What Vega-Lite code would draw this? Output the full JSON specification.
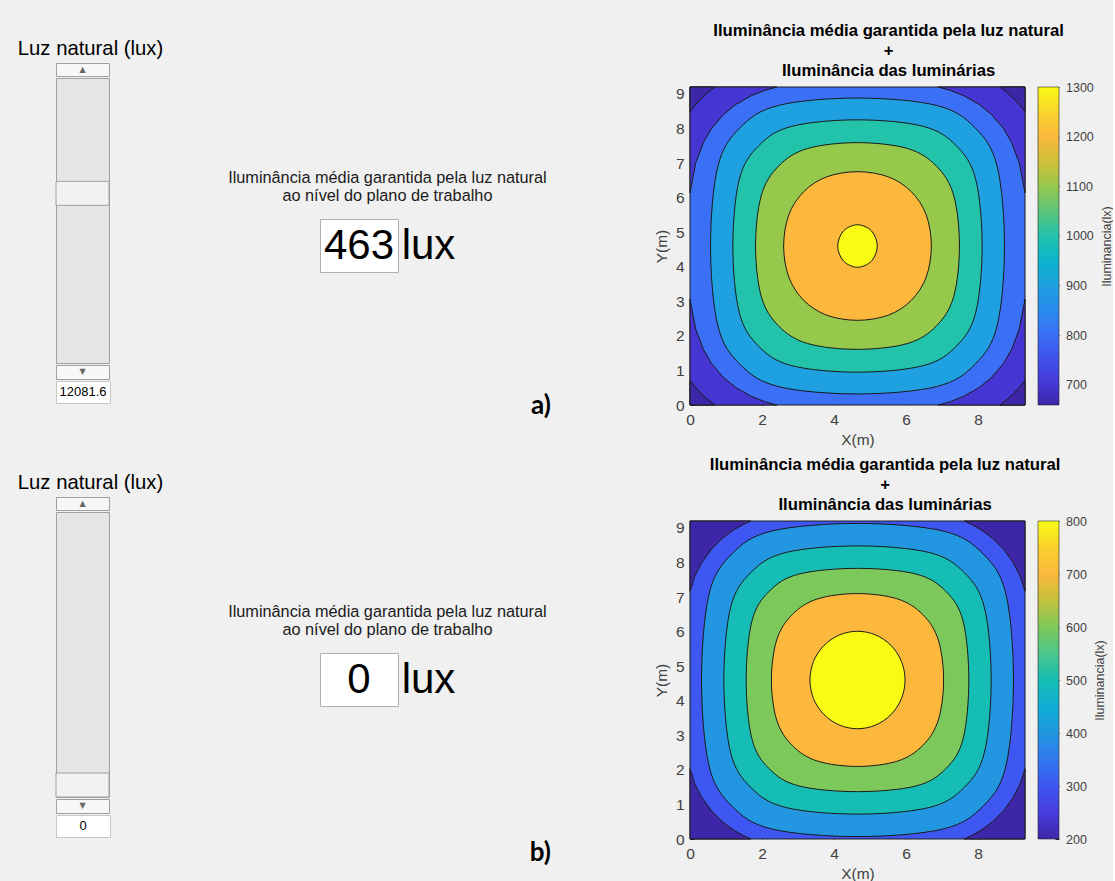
{
"$schema": "https://vega.github.io/schema/vega-lite/v6.json",
"background": "#f0f0f0",
"padding": {"left": 17, "top": 11, "right": 0, "bottom": 0},
"config": {"font": "Liberation Sans", "view": {"stroke": null}, "axis": {"grid": false}},
"datasets": {
"painel_a": [{"painel": "a", "luz_natural": 12081.6, "iluminancia_media": 463, "rotulo": "a)"}],
"painel_b": [{"painel": "b", "luz_natural": 0, "iluminancia_media": 0, "rotulo": "b)"}],
"escala_a": [{"min": 659, "max": 1300}],
"escala_b": [{"min": 200, "max": 800}],
"contornos_a": [
{"nivel":800,"reg":"fundo","ord":0,"x":0,"y":0},{"nivel":800,"reg":"fundo","ord":1,"x":9.3,"y":0},{"nivel":800,"reg":"fundo","ord":2,"x":9.3,"y":9.2},{"nivel":800,"reg":"fundo","ord":3,"x":0,"y":9.2},{"nivel":800,"reg":"fundo","ord":4,"x":0,"y":0},
{"nivel":700,"reg":"NO","ord":0,"x":0,"y":9.2},{"nivel":700,"reg":"NO","ord":1,"x":0,"y":6.14},{"nivel":700,"reg":"NO","ord":2,"x":0.157,"y":7.0},{"nivel":700,"reg":"NO","ord":3,"x":0.375,"y":7.6},{"nivel":700,"reg":"NO","ord":4,"x":0.599,"y":8.0},{"nivel":700,"reg":"NO","ord":5,"x":0.926,"y":8.4},{"nivel":700,"reg":"NO","ord":6,"x":1.279,"y":8.7},{"nivel":700,"reg":"NO","ord":7,"x":1.704,"y":8.95},{"nivel":700,"reg":"NO","ord":8,"x":2.068,"y":9.1},{"nivel":700,"reg":"NO","ord":9,"x":2.407,"y":9.2},{"nivel":700,"reg":"NO","ord":10,"x":0,"y":9.2},
{"nivel":700,"reg":"NE","ord":0,"x":9.3,"y":9.2},{"nivel":700,"reg":"NE","ord":1,"x":9.3,"y":6.14},{"nivel":700,"reg":"NE","ord":2,"x":9.143,"y":7.0},{"nivel":700,"reg":"NE","ord":3,"x":8.925,"y":7.6},{"nivel":700,"reg":"NE","ord":4,"x":8.701,"y":8.0},{"nivel":700,"reg":"NE","ord":5,"x":8.374,"y":8.4},{"nivel":700,"reg":"NE","ord":6,"x":8.021,"y":8.7},{"nivel":700,"reg":"NE","ord":7,"x":7.596,"y":8.95},{"nivel":700,"reg":"NE","ord":8,"x":7.232,"y":9.1},{"nivel":700,"reg":"NE","ord":9,"x":6.893,"y":9.2},{"nivel":700,"reg":"NE","ord":10,"x":9.3,"y":9.2},
{"nivel":700,"reg":"SO","ord":0,"x":0,"y":0},{"nivel":700,"reg":"SO","ord":1,"x":0,"y":3.06},{"nivel":700,"reg":"SO","ord":2,"x":0.157,"y":2.2},{"nivel":700,"reg":"SO","ord":3,"x":0.375,"y":1.6},{"nivel":700,"reg":"SO","ord":4,"x":0.599,"y":1.2},{"nivel":700,"reg":"SO","ord":5,"x":0.926,"y":0.8},{"nivel":700,"reg":"SO","ord":6,"x":1.279,"y":0.5},{"nivel":700,"reg":"SO","ord":7,"x":1.704,"y":0.25},{"nivel":700,"reg":"SO","ord":8,"x":2.068,"y":0.1},{"nivel":700,"reg":"SO","ord":9,"x":2.407,"y":0},{"nivel":700,"reg":"SO","ord":10,"x":0,"y":0},
{"nivel":700,"reg":"SE","ord":0,"x":9.3,"y":0},{"nivel":700,"reg":"SE","ord":1,"x":9.3,"y":3.06},{"nivel":700,"reg":"SE","ord":2,"x":9.143,"y":2.2},{"nivel":700,"reg":"SE","ord":3,"x":8.925,"y":1.6},{"nivel":700,"reg":"SE","ord":4,"x":8.701,"y":1.2},{"nivel":700,"reg":"SE","ord":5,"x":8.374,"y":0.8},{"nivel":700,"reg":"SE","ord":6,"x":8.021,"y":0.5},{"nivel":700,"reg":"SE","ord":7,"x":7.596,"y":0.25},{"nivel":700,"reg":"SE","ord":8,"x":7.232,"y":0.1},{"nivel":700,"reg":"SE","ord":9,"x":6.893,"y":0},{"nivel":700,"reg":"SE","ord":10,"x":9.3,"y":0},
{"nivel":659,"reg":"NO","ord":0,"x":0,"y":9.2},{"nivel":659,"reg":"NO","ord":1,"x":0,"y":8.49},{"nivel":659,"reg":"NO","ord":2,"x":0.164,"y":8.7},{"nivel":659,"reg":"NO","ord":3,"x":0.347,"y":8.9},{"nivel":659,"reg":"NO","ord":4,"x":0.506,"y":9.05},{"nivel":659,"reg":"NO","ord":5,"x":0.694,"y":9.2},{"nivel":659,"reg":"NO","ord":6,"x":0,"y":9.2},
{"nivel":659,"reg":"NE","ord":0,"x":9.3,"y":9.2},{"nivel":659,"reg":"NE","ord":1,"x":9.3,"y":8.49},{"nivel":659,"reg":"NE","ord":2,"x":9.136,"y":8.7},{"nivel":659,"reg":"NE","ord":3,"x":8.953,"y":8.9},{"nivel":659,"reg":"NE","ord":4,"x":8.794,"y":9.05},{"nivel":659,"reg":"NE","ord":5,"x":8.606,"y":9.2},{"nivel":659,"reg":"NE","ord":6,"x":9.3,"y":9.2},
{"nivel":659,"reg":"SO","ord":0,"x":0,"y":0},{"nivel":659,"reg":"SO","ord":1,"x":0,"y":0.71},{"nivel":659,"reg":"SO","ord":2,"x":0.164,"y":0.5},{"nivel":659,"reg":"SO","ord":3,"x":0.347,"y":0.3},{"nivel":659,"reg":"SO","ord":4,"x":0.506,"y":0.15},{"nivel":659,"reg":"SO","ord":5,"x":0.694,"y":0},{"nivel":659,"reg":"SO","ord":6,"x":0,"y":0},
{"nivel":659,"reg":"SE","ord":0,"x":9.3,"y":0},{"nivel":659,"reg":"SE","ord":1,"x":9.3,"y":0.71},{"nivel":659,"reg":"SE","ord":2,"x":9.136,"y":0.5},{"nivel":659,"reg":"SE","ord":3,"x":8.953,"y":0.3},{"nivel":659,"reg":"SE","ord":4,"x":8.794,"y":0.15},{"nivel":659,"reg":"SE","ord":5,"x":8.606,"y":0},{"nivel":659,"reg":"SE","ord":6,"x":9.3,"y":0},
{"nivel":900,"reg":"c","ord":0,"x":8.73,"y":4.6},{"nivel":900,"reg":"c","ord":1,"x":8.527,"y":6.903},{"nivel":900,"reg":"c","ord":2,"x":7.912,"y":8.022},{"nivel":900,"reg":"c","ord":3,"x":6.845,"y":8.667},{"nivel":900,"reg":"c","ord":4,"x":4.65,"y":8.88},{"nivel":900,"reg":"c","ord":5,"x":2.455,"y":8.667},{"nivel":900,"reg":"c","ord":6,"x":1.388,"y":8.022},{"nivel":900,"reg":"c","ord":7,"x":0.773,"y":6.903},{"nivel":900,"reg":"c","ord":8,"x":0.57,"y":4.6},{"nivel":900,"reg":"c","ord":9,"x":0.773,"y":2.297},{"nivel":900,"reg":"c","ord":10,"x":1.388,"y":1.178},{"nivel":900,"reg":"c","ord":11,"x":2.455,"y":0.533},{"nivel":900,"reg":"c","ord":12,"x":4.65,"y":0.32},{"nivel":900,"reg":"c","ord":13,"x":6.845,"y":0.533},{"nivel":900,"reg":"c","ord":14,"x":7.912,"y":1.178},{"nivel":900,"reg":"c","ord":15,"x":8.527,"y":2.297},
{"nivel":1000,"reg":"c","ord":0,"x":8.11,"y":4.6},{"nivel":1000,"reg":"c","ord":1,"x":7.932,"y":6.524},{"nivel":1000,"reg":"c","ord":2,"x":7.396,"y":7.497},{"nivel":1000,"reg":"c","ord":3,"x":6.474,"y":8.062},{"nivel":1000,"reg":"c","ord":4,"x":4.65,"y":8.25},{"nivel":1000,"reg":"c","ord":5,"x":2.826,"y":8.062},{"nivel":1000,"reg":"c","ord":6,"x":1.904,"y":7.497},{"nivel":1000,"reg":"c","ord":7,"x":1.368,"y":6.524},{"nivel":1000,"reg":"c","ord":8,"x":1.19,"y":4.6},{"nivel":1000,"reg":"c","ord":9,"x":1.368,"y":2.676},{"nivel":1000,"reg":"c","ord":10,"x":1.904,"y":1.703},{"nivel":1000,"reg":"c","ord":11,"x":2.826,"y":1.138},{"nivel":1000,"reg":"c","ord":12,"x":4.65,"y":0.95},{"nivel":1000,"reg":"c","ord":13,"x":6.474,"y":1.138},{"nivel":1000,"reg":"c","ord":14,"x":7.396,"y":1.703},{"nivel":1000,"reg":"c","ord":15,"x":7.932,"y":2.676},
{"nivel":1100,"reg":"c","ord":0,"x":7.48,"y":4.6},{"nivel":1100,"reg":"c","ord":1,"x":7.319,"y":6.068},{"nivel":1100,"reg":"c","ord":2,"x":6.839,"y":6.913},{"nivel":1100,"reg":"c","ord":3,"x":6.039,"y":7.42},{"nivel":1100,"reg":"c","ord":4,"x":4.65,"y":7.59},{"nivel":1100,"reg":"c","ord":5,"x":3.261,"y":7.42},{"nivel":1100,"reg":"c","ord":6,"x":2.461,"y":6.913},{"nivel":1100,"reg":"c","ord":7,"x":1.981,"y":6.068},{"nivel":1100,"reg":"c","ord":8,"x":1.82,"y":4.6},{"nivel":1100,"reg":"c","ord":9,"x":1.981,"y":3.132},{"nivel":1100,"reg":"c","ord":10,"x":2.461,"y":2.287},{"nivel":1100,"reg":"c","ord":11,"x":3.261,"y":1.78},{"nivel":1100,"reg":"c","ord":12,"x":4.65,"y":1.61},{"nivel":1100,"reg":"c","ord":13,"x":6.039,"y":1.78},{"nivel":1100,"reg":"c","ord":14,"x":6.839,"y":2.287},{"nivel":1100,"reg":"c","ord":15,"x":7.319,"y":3.132},
{"nivel":1200,"reg":"c","ord":0,"x":6.7,"y":4.6},{"nivel":1200,"reg":"c","ord":1,"x":6.558,"y":5.498},{"nivel":1200,"reg":"c","ord":2,"x":6.146,"y":6.169},{"nivel":1200,"reg":"c","ord":3,"x":5.506,"y":6.601},{"nivel":1200,"reg":"c","ord":4,"x":4.65,"y":6.75},{"nivel":1200,"reg":"c","ord":5,"x":3.794,"y":6.601},{"nivel":1200,"reg":"c","ord":6,"x":3.154,"y":6.169},{"nivel":1200,"reg":"c","ord":7,"x":2.742,"y":5.498},{"nivel":1200,"reg":"c","ord":8,"x":2.6,"y":4.6},{"nivel":1200,"reg":"c","ord":9,"x":2.742,"y":3.702},{"nivel":1200,"reg":"c","ord":10,"x":3.154,"y":3.031},{"nivel":1200,"reg":"c","ord":11,"x":3.794,"y":2.599},{"nivel":1200,"reg":"c","ord":12,"x":4.65,"y":2.45},{"nivel":1200,"reg":"c","ord":13,"x":5.506,"y":2.599},{"nivel":1200,"reg":"c","ord":14,"x":6.146,"y":3.031},{"nivel":1200,"reg":"c","ord":15,"x":6.558,"y":3.702},
{"nivel":1300,"reg":"c","ord":0,"x":5.2,"y":4.6},{"nivel":1300,"reg":"c","ord":1,"x":5.039,"y":5.035},{"nivel":1300,"reg":"c","ord":2,"x":4.65,"y":5.215},{"nivel":1300,"reg":"c","ord":3,"x":4.261,"y":5.035},{"nivel":1300,"reg":"c","ord":4,"x":4.1,"y":4.6},{"nivel":1300,"reg":"c","ord":5,"x":4.261,"y":4.165},{"nivel":1300,"reg":"c","ord":6,"x":4.65,"y":3.985},{"nivel":1300,"reg":"c","ord":7,"x":5.039,"y":4.165}
],
"contornos_b": [
{"nivel":300,"reg":"fundo","ord":0,"x":0,"y":0},{"nivel":300,"reg":"fundo","ord":1,"x":9.3,"y":0},{"nivel":300,"reg":"fundo","ord":2,"x":9.3,"y":9.2},{"nivel":300,"reg":"fundo","ord":3,"x":0,"y":9.2},{"nivel":300,"reg":"fundo","ord":4,"x":0,"y":0},
{"nivel":200,"reg":"NO","ord":0,"x":0,"y":9.2},{"nivel":200,"reg":"NO","ord":1,"x":0,"y":7.17},{"nivel":200,"reg":"NO","ord":2,"x":0.132,"y":7.6},{"nivel":200,"reg":"NO","ord":3,"x":0.329,"y":8.0},{"nivel":200,"reg":"NO","ord":4,"x":0.608,"y":8.4},{"nivel":200,"reg":"NO","ord":5,"x":0.899,"y":8.7},{"nivel":200,"reg":"NO","ord":6,"x":1.225,"y":8.95},{"nivel":200,"reg":"NO","ord":7,"x":1.479,"y":9.1},{"nivel":200,"reg":"NO","ord":8,"x":1.685,"y":9.2},{"nivel":200,"reg":"NO","ord":9,"x":0,"y":9.2},
{"nivel":200,"reg":"NE","ord":0,"x":9.3,"y":9.2},{"nivel":200,"reg":"NE","ord":1,"x":9.3,"y":7.17},{"nivel":200,"reg":"NE","ord":2,"x":9.168,"y":7.6},{"nivel":200,"reg":"NE","ord":3,"x":8.971,"y":8.0},{"nivel":200,"reg":"NE","ord":4,"x":8.692,"y":8.4},{"nivel":200,"reg":"NE","ord":5,"x":8.401,"y":8.7},{"nivel":200,"reg":"NE","ord":6,"x":8.075,"y":8.95},{"nivel":200,"reg":"NE","ord":7,"x":7.821,"y":9.1},{"nivel":200,"reg":"NE","ord":8,"x":7.615,"y":9.2},{"nivel":200,"reg":"NE","ord":9,"x":9.3,"y":9.2},
{"nivel":200,"reg":"SO","ord":0,"x":0,"y":0},{"nivel":200,"reg":"SO","ord":1,"x":0,"y":2.03},{"nivel":200,"reg":"SO","ord":2,"x":0.132,"y":1.6},{"nivel":200,"reg":"SO","ord":3,"x":0.329,"y":1.2},{"nivel":200,"reg":"SO","ord":4,"x":0.608,"y":0.8},{"nivel":200,"reg":"SO","ord":5,"x":0.899,"y":0.5},{"nivel":200,"reg":"SO","ord":6,"x":1.225,"y":0.25},{"nivel":200,"reg":"SO","ord":7,"x":1.479,"y":0.1},{"nivel":200,"reg":"SO","ord":8,"x":1.685,"y":0},{"nivel":200,"reg":"SO","ord":9,"x":0,"y":0},
{"nivel":200,"reg":"SE","ord":0,"x":9.3,"y":0},{"nivel":200,"reg":"SE","ord":1,"x":9.3,"y":2.03},{"nivel":200,"reg":"SE","ord":2,"x":9.168,"y":1.6},{"nivel":200,"reg":"SE","ord":3,"x":8.971,"y":1.2},{"nivel":200,"reg":"SE","ord":4,"x":8.692,"y":0.8},{"nivel":200,"reg":"SE","ord":5,"x":8.401,"y":0.5},{"nivel":200,"reg":"SE","ord":6,"x":8.075,"y":0.25},{"nivel":200,"reg":"SE","ord":7,"x":7.821,"y":0.1},{"nivel":200,"reg":"SE","ord":8,"x":7.615,"y":0},{"nivel":200,"reg":"SE","ord":9,"x":9.3,"y":0},
{"nivel":400,"reg":"c","ord":0,"x":8.98,"y":4.6},{"nivel":400,"reg":"c","ord":1,"x":8.771,"y":7.086},{"nivel":400,"reg":"c","ord":2,"x":8.137,"y":8.248},{"nivel":400,"reg":"c","ord":3,"x":7.026,"y":8.911},{"nivel":400,"reg":"c","ord":4,"x":4.65,"y":9.13},{"nivel":400,"reg":"c","ord":5,"x":2.274,"y":8.911},{"nivel":400,"reg":"c","ord":6,"x":1.163,"y":8.248},{"nivel":400,"reg":"c","ord":7,"x":0.529,"y":7.086},{"nivel":400,"reg":"c","ord":8,"x":0.32,"y":4.6},{"nivel":400,"reg":"c","ord":9,"x":0.529,"y":2.114},{"nivel":400,"reg":"c","ord":10,"x":1.163,"y":0.952},{"nivel":400,"reg":"c","ord":11,"x":2.274,"y":0.289},{"nivel":400,"reg":"c","ord":12,"x":4.65,"y":0.07},{"nivel":400,"reg":"c","ord":13,"x":7.026,"y":0.289},{"nivel":400,"reg":"c","ord":14,"x":8.137,"y":0.952},{"nivel":400,"reg":"c","ord":15,"x":8.771,"y":2.114},
{"nivel":500,"reg":"c","ord":0,"x":8.36,"y":4.6},{"nivel":500,"reg":"c","ord":1,"x":8.175,"y":6.688},{"nivel":500,"reg":"c","ord":2,"x":7.617,"y":7.702},{"nivel":500,"reg":"c","ord":3,"x":6.646,"y":8.287},{"nivel":500,"reg":"c","ord":4,"x":4.65,"y":8.48},{"nivel":500,"reg":"c","ord":5,"x":2.654,"y":8.287},{"nivel":500,"reg":"c","ord":6,"x":1.683,"y":7.702},{"nivel":500,"reg":"c","ord":7,"x":1.125,"y":6.688},{"nivel":500,"reg":"c","ord":8,"x":0.94,"y":4.6},{"nivel":500,"reg":"c","ord":9,"x":1.125,"y":2.512},{"nivel":500,"reg":"c","ord":10,"x":1.683,"y":1.498},{"nivel":500,"reg":"c","ord":11,"x":2.654,"y":0.913},{"nivel":500,"reg":"c","ord":12,"x":4.65,"y":0.72},{"nivel":500,"reg":"c","ord":13,"x":6.646,"y":0.913},{"nivel":500,"reg":"c","ord":14,"x":7.617,"y":1.498},{"nivel":500,"reg":"c","ord":15,"x":8.175,"y":2.512},
{"nivel":600,"reg":"c","ord":0,"x":7.74,"y":4.6},{"nivel":600,"reg":"c","ord":1,"x":7.581,"y":6.303},{"nivel":600,"reg":"c","ord":2,"x":7.103,"y":7.164},{"nivel":600,"reg":"c","ord":3,"x":6.279,"y":7.664},{"nivel":600,"reg":"c","ord":4,"x":4.65,"y":7.83},{"nivel":600,"reg":"c","ord":5,"x":3.021,"y":7.664},{"nivel":600,"reg":"c","ord":6,"x":2.197,"y":7.164},{"nivel":600,"reg":"c","ord":7,"x":1.719,"y":6.303},{"nivel":600,"reg":"c","ord":8,"x":1.56,"y":4.6},{"nivel":600,"reg":"c","ord":9,"x":1.719,"y":2.897},{"nivel":600,"reg":"c","ord":10,"x":2.197,"y":2.036},{"nivel":600,"reg":"c","ord":11,"x":3.021,"y":1.536},{"nivel":600,"reg":"c","ord":12,"x":4.65,"y":1.37},{"nivel":600,"reg":"c","ord":13,"x":6.279,"y":1.536},{"nivel":600,"reg":"c","ord":14,"x":7.103,"y":2.036},{"nivel":600,"reg":"c","ord":15,"x":7.581,"y":2.897},
{"nivel":700,"reg":"c","ord":0,"x":7.04,"y":4.6},{"nivel":700,"reg":"c","ord":1,"x":6.893,"y":5.76},{"nivel":700,"reg":"c","ord":2,"x":6.461,"y":6.495},{"nivel":700,"reg":"c","ord":3,"x":5.758,"y":6.947},{"nivel":700,"reg":"c","ord":4,"x":4.65,"y":7.1},{"nivel":700,"reg":"c","ord":5,"x":3.542,"y":6.947},{"nivel":700,"reg":"c","ord":6,"x":2.839,"y":6.495},{"nivel":700,"reg":"c","ord":7,"x":2.407,"y":5.76},{"nivel":700,"reg":"c","ord":8,"x":2.26,"y":4.6},{"nivel":700,"reg":"c","ord":9,"x":2.407,"y":3.44},{"nivel":700,"reg":"c","ord":10,"x":2.839,"y":2.705},{"nivel":700,"reg":"c","ord":11,"x":3.542,"y":2.253},{"nivel":700,"reg":"c","ord":12,"x":4.65,"y":2.1},{"nivel":700,"reg":"c","ord":13,"x":5.758,"y":2.253},{"nivel":700,"reg":"c","ord":14,"x":6.461,"y":2.705},{"nivel":700,"reg":"c","ord":15,"x":6.893,"y":3.44},
{"nivel":800,"reg":"c","ord":0,"x":5.97,"y":4.6},{"nivel":800,"reg":"c","ord":1,"x":5.87,"y":5.14},{"nivel":800,"reg":"c","ord":2,"x":5.583,"y":5.597},{"nivel":800,"reg":"c","ord":3,"x":5.155,"y":5.903},{"nivel":800,"reg":"c","ord":4,"x":4.65,"y":6.01},{"nivel":800,"reg":"c","ord":5,"x":4.145,"y":5.903},{"nivel":800,"reg":"c","ord":6,"x":3.717,"y":5.597},{"nivel":800,"reg":"c","ord":7,"x":3.43,"y":5.14},{"nivel":800,"reg":"c","ord":8,"x":3.33,"y":4.6},{"nivel":800,"reg":"c","ord":9,"x":3.43,"y":4.06},{"nivel":800,"reg":"c","ord":10,"x":3.717,"y":3.603},{"nivel":800,"reg":"c","ord":11,"x":4.145,"y":3.297},{"nivel":800,"reg":"c","ord":12,"x":4.65,"y":3.19},{"nivel":800,"reg":"c","ord":13,"x":5.155,"y":3.297},{"nivel":800,"reg":"c","ord":14,"x":5.583,"y":3.603},{"nivel":800,"reg":"c","ord":15,"x":5.87,"y":4.06}
]
},
"vconcat": [
{
"data": {"name": "painel_a"},
"hconcat": [
{
"vconcat": [
{"width": 53, "height": 21, "mark": {"type": "text", "text": ""}},
{"width": 53, "height": 13, "title": {"text": "Luz natural (lux)", "fontSize": 20.3, "fontWeight": "normal", "color": "#000000", "dx": 8, "offset": 4}, "view": {"fill": "#f7f7f7", "stroke": "#a0a0a0"}, "mark": {"type": "text", "text": "▲", "fontSize": 8, "color": "#666666", "font": "DejaVu Sans"}},
{"width": 53, "height": 285, "view": {"fill": "#e6e6e6", "stroke": "#a0a0a0"}, "mark": {"type": "tick", "orient": "horizontal", "thickness": 24, "size": 53, "color": "#f2f2f2", "stroke": "#a0a0a0", "strokeWidth": 1, "opacity": 1}, "encoding": {"y": {"field": "luz_natural", "type": "quantitative", "scale": {"domain": [0, 20000], "padding": 12, "nice": false, "zero": false}, "axis": null}}},
{"width": 53, "height": 14, "view": {"fill": "#f7f7f7", "stroke": "#a0a0a0"}, "mark": {"type": "text", "text": "▼", "fontSize": 8, "color": "#666666", "font": "DejaVu Sans"}},
{"width": 54, "height": 22, "view": {"fill": "#ffffff", "stroke": "#c8c8c8"}, "mark": {"type": "text", "fontSize": 13, "color": "#000000"}, "encoding": {"text": {"field": "luz_natural", "type": "quantitative", "format": "~f"}}}
],
"spacing": 0
},
{
"hconcat": [
{
"vconcat": [
{"width": 1, "height": 153, "mark": {"type": "text", "text": ""}},
{
"title": {"text": ["Iluminância média garantida pela luz natural", "ao nível do plano de trabalho"], "anchor": "middle", "fontSize": 16.3, "fontWeight": "normal", "lineHeight": 18, "offset": 14, "color": "#1a1a1a"},
"hconcat": [
{"width": 78, "height": 53, "view": {"fill": "#ffffff", "stroke": "#b0b0b0"}, "mark": {"type": "text", "fontSize": 42, "color": "#000000", "baseline": "middle"}, "encoding": {"text": {"field": "iluminancia_media", "type": "quantitative", "format": "d"}}},
{"width": 49, "height": 53, "mark": {"type": "text", "text": "lux", "fontSize": 42, "color": "#000000", "baseline": "middle"}}
],
"spacing": 2
},
{"width": 231, "height": 146, "mark": {"type": "text", "x": "width", "y": "height", "align": "right", "baseline": "bottom", "font": "Lato", "fontWeight": "bold", "fontSize": 26, "color": "#000000"}, "encoding": {"text": {"field": "rotulo", "type": "nominal"}}}
],
"spacing": 0
},
{
"vconcat": [
{"width": 1, "height": 1, "mark": {"type": "text", "text": ""}},
{
"title": {"text": ["Iluminância média garantida pela luz natural", "+", "Iluminância das luminárias"], "anchor": "middle", "fontSize": 16.7, "fontWeight": "bold", "lineHeight": 20, "offset": 1, "color": "#000000", "dx": 5},
"hconcat": [
{
"width": 335, "height": 318,
"data": {"name": "contornos_a"},
"encoding": {
"x": {"field": "x", "type": "quantitative", "scale": {"domain": [0, 9.3], "nice": false, "zero": false}, "axis": {"title": "X(m)", "values": [0, 2, 4, 6, 8], "domain": false, "tickSize": -4, "tickColor": "#262626", "labelFontSize": 15.5, "labelColor": "#404040", "labelPadding": 11, "labelFlush": false, "titleFontSize": 15.4, "titleFontWeight": "normal", "titleColor": "#404040", "titlePadding": 5}},
"y": {"field": "y", "type": "quantitative", "scale": {"domain": [0, 9.2], "nice": false, "zero": false}, "axis": {"title": "Y(m)", "values": [0, 1, 2, 3, 4, 5, 6, 7, 8, 9], "domain": false, "tickSize": -4, "tickColor": "#262626", "labelFontSize": 15.5, "labelColor": "#404040", "labelPadding": 10, "labelFlush": false, "titleFontSize": 15.4, "titleFontWeight": "normal", "titleColor": "#404040", "titlePadding": 6}},
"fill": {"field": "nivel", "type": "quantitative", "legend": null, "scale": {"domain": [659, 700, 750, 800, 850, 900, 950, 1000, 1050, 1100, 1150, 1200, 1250, 1300], "range": ["#3e26a8", "#4536d4", "#4150ec", "#3a6ff6", "#2a8aec", "#1fa0e0", "#0cb4cb", "#22c2ab", "#5cc57b", "#96c84c", "#d0bf3a", "#fbb83c", "#fad52c", "#f9fb15"]}},
"order": {"field": "ord", "type": "quantitative"},
"detail": {"field": "reg", "type": "nominal"}
},
"layer": [
{"transform": [{"filter": "datum.nivel == 800"}], "mark": {"type": "line", "interpolate": "linear", "stroke": "#1a1a1a", "strokeWidth": 1}},
{"transform": [{"filter": "datum.nivel == 700"}], "mark": {"type": "line", "interpolate": "linear", "stroke": "#1a1a1a", "strokeWidth": 1}},
{"transform": [{"filter": "datum.nivel == 659"}], "mark": {"type": "line", "interpolate": "linear", "stroke": "#1a1a1a", "strokeWidth": 1}},
{"transform": [{"filter": "datum.nivel == 900"}], "mark": {"type": "line", "interpolate": "cardinal-closed", "stroke": "#1a1a1a", "strokeWidth": 1}},
{"transform": [{"filter": "datum.nivel == 1000"}], "mark": {"type": "line", "interpolate": "cardinal-closed", "stroke": "#1a1a1a", "strokeWidth": 1}},
{"transform": [{"filter": "datum.nivel == 1100"}], "mark": {"type": "line", "interpolate": "cardinal-closed", "stroke": "#1a1a1a", "strokeWidth": 1}},
{"transform": [{"filter": "datum.nivel == 1200"}], "mark": {"type": "line", "interpolate": "cardinal-closed", "stroke": "#1a1a1a", "strokeWidth": 1}},
{"transform": [{"filter": "datum.nivel == 1300"}], "mark": {"type": "line", "interpolate": "cardinal-closed", "stroke": "#1a1a1a", "strokeWidth": 1}}
]
},
{
"width": 21, "height": 318,
"data": {"name": "escala_a"},
"mark": {"type": "rect", "fill": {"gradient": "linear", "x1": 0, "y1": 1, "x2": 0, "y2": 0, "stops": [{"offset": 0, "color": "#3e26a8"}, {"offset": 0.064, "color": "#4536d4"}, {"offset": 0.142, "color": "#4150ec"}, {"offset": 0.22, "color": "#3a6ff6"}, {"offset": 0.298, "color": "#2a8aec"}, {"offset": 0.376, "color": "#1fa0e0"}, {"offset": 0.454, "color": "#0cb4cb"}, {"offset": 0.532, "color": "#22c2ab"}, {"offset": 0.61, "color": "#5cc57b"}, {"offset": 0.688, "color": "#96c84c"}, {"offset": 0.766, "color": "#d0bf3a"}, {"offset": 0.844, "color": "#fbb83c"}, {"offset": 0.922, "color": "#fad52c"}, {"offset": 1, "color": "#f9fb15"}]}, "stroke": "#262626", "strokeWidth": 0.6},
"encoding": {
"y": {"field": "min", "type": "quantitative", "scale": {"domain": [659, 1300], "nice": false, "zero": false}, "axis": {"orient": "right", "values": [700, 800, 900, 1000, 1100, 1200, 1300], "format": "d", "title": "Iluminancia(lx)", "titleAngle": 270, "titleFontSize": 12.5, "titleFontWeight": "normal", "titleColor": "#404040", "titlePadding": 20, "labelFontSize": 12.5, "labelColor": "#404040", "labelPadding": 10.5, "labelFlush": false, "domain": false, "tickSize": -4, "tickColor": "#262626"}},
"y2": {"field": "max"}
}
}
],
"spacing": 13,
"bounds": "flush"
}
],
"spacing": 0
}
],
"spacing": 103
}
],
"spacing": 64
},
{
"data": {"name": "painel_b"},
"hconcat": [
{
"vconcat": [
{"width": 53, "height": 21, "mark": {"type": "text", "text": ""}},
{"width": 53, "height": 13, "title": {"text": "Luz natural (lux)", "fontSize": 20.3, "fontWeight": "normal", "color": "#000000", "dx": 8, "offset": 4}, "view": {"fill": "#f7f7f7", "stroke": "#a0a0a0"}, "mark": {"type": "text", "text": "▲", "fontSize": 8, "color": "#666666", "font": "DejaVu Sans"}},
{"width": 53, "height": 285, "view": {"fill": "#e6e6e6", "stroke": "#a0a0a0"}, "mark": {"type": "tick", "orient": "horizontal", "thickness": 24, "size": 53, "color": "#f2f2f2", "stroke": "#a0a0a0", "strokeWidth": 1, "opacity": 1}, "encoding": {"y": {"field": "luz_natural", "type": "quantitative", "scale": {"domain": [0, 20000], "padding": 12, "nice": false, "zero": false}, "axis": null}}},
{"width": 53, "height": 14, "view": {"fill": "#f7f7f7", "stroke": "#a0a0a0"}, "mark": {"type": "text", "text": "▼", "fontSize": 8, "color": "#666666", "font": "DejaVu Sans"}},
{"width": 54, "height": 22, "view": {"fill": "#ffffff", "stroke": "#c8c8c8"}, "mark": {"type": "text", "fontSize": 13, "color": "#000000"}, "encoding": {"text": {"field": "luz_natural", "type": "quantitative", "format": "~f"}}}
],
"spacing": 0
},
{
"hconcat": [
{
"vconcat": [
{"width": 1, "height": 153, "mark": {"type": "text", "text": ""}},
{
"title": {"text": ["Iluminância média garantida pela luz natural", "ao nível do plano de trabalho"], "anchor": "middle", "fontSize": 16.3, "fontWeight": "normal", "lineHeight": 18, "offset": 14, "color": "#1a1a1a"},
"hconcat": [
{"width": 78, "height": 53, "view": {"fill": "#ffffff", "stroke": "#b0b0b0"}, "mark": {"type": "text", "fontSize": 42, "color": "#000000", "baseline": "middle"}, "encoding": {"text": {"field": "iluminancia_media", "type": "quantitative", "format": "d"}}},
{"width": 49, "height": 53, "mark": {"type": "text", "text": "lux", "fontSize": 42, "color": "#000000", "baseline": "middle"}}
],
"spacing": 2
},
{"width": 231, "height": 159, "mark": {"type": "text", "x": "width", "y": "height", "align": "right", "baseline": "bottom", "font": "Lato", "fontWeight": "bold", "fontSize": 26, "color": "#000000"}, "encoding": {"text": {"field": "rotulo", "type": "nominal"}}}
],
"spacing": 0
},
{
"vconcat": [
{"width": 1, "height": 1, "mark": {"type": "text", "text": ""}},
{
"title": {"text": ["Iluminância média garantida pela luz natural", "+", "Iluminância das luminárias"], "anchor": "middle", "fontSize": 16.7, "fontWeight": "bold", "lineHeight": 20, "offset": 1, "color": "#000000", "dx": 5},
"hconcat": [
{
"width": 335, "height": 318,
"data": {"name": "contornos_b"},
"encoding": {
"x": {"field": "x", "type": "quantitative", "scale": {"domain": [0, 9.3], "nice": false, "zero": false}, "axis": {"title": "X(m)", "values": [0, 2, 4, 6, 8], "domain": false, "tickSize": -4, "tickColor": "#262626", "labelFontSize": 15.5, "labelColor": "#404040", "labelPadding": 11, "labelFlush": false, "titleFontSize": 15.4, "titleFontWeight": "normal", "titleColor": "#404040", "titlePadding": 5}},
"y": {"field": "y", "type": "quantitative", "scale": {"domain": [0, 9.2], "nice": false, "zero": false}, "axis": {"title": "Y(m)", "values": [0, 1, 2, 3, 4, 5, 6, 7, 8, 9], "domain": false, "tickSize": -4, "tickColor": "#262626", "labelFontSize": 15.5, "labelColor": "#404040", "labelPadding": 10, "labelFlush": false, "titleFontSize": 15.4, "titleFontWeight": "normal", "titleColor": "#404040", "titlePadding": 6}},
"fill": {"field": "nivel", "type": "quantitative", "legend": null, "scale": {"domain": [200, 250, 300, 350, 400, 450, 500, 550, 600, 650, 700, 750, 800], "range": ["#3e26a8", "#463ddc", "#3e56f2", "#3079ee", "#2296e0", "#10aed4", "#16bdb4", "#4cc68b", "#7dc85a", "#c3c13c", "#fbb83c", "#f9d12d", "#f9fb15"]}},
"order": {"field": "ord", "type": "quantitative"},
"detail": {"field": "reg", "type": "nominal"}
},
"layer": [
{"transform": [{"filter": "datum.nivel == 300"}], "mark": {"type": "line", "interpolate": "linear", "stroke": "#1a1a1a", "strokeWidth": 1}},
{"transform": [{"filter": "datum.nivel == 200"}], "mark": {"type": "line", "interpolate": "linear", "stroke": "#1a1a1a", "strokeWidth": 1}},
{"transform": [{"filter": "datum.nivel == 400"}], "mark": {"type": "line", "interpolate": "cardinal-closed", "stroke": "#1a1a1a", "strokeWidth": 1}},
{"transform": [{"filter": "datum.nivel == 500"}], "mark": {"type": "line", "interpolate": "cardinal-closed", "stroke": "#1a1a1a", "strokeWidth": 1}},
{"transform": [{"filter": "datum.nivel == 600"}], "mark": {"type": "line", "interpolate": "cardinal-closed", "stroke": "#1a1a1a", "strokeWidth": 1}},
{"transform": [{"filter": "datum.nivel == 700"}], "mark": {"type": "line", "interpolate": "cardinal-closed", "stroke": "#1a1a1a", "strokeWidth": 1}},
{"transform": [{"filter": "datum.nivel == 800"}], "mark": {"type": "line", "interpolate": "cardinal-closed", "stroke": "#1a1a1a", "strokeWidth": 1}}
]
},
{
"width": 21, "height": 318,
"data": {"name": "escala_b"},
"mark": {"type": "rect", "fill": {"gradient": "linear", "x1": 0, "y1": 1, "x2": 0, "y2": 0, "stops": [{"offset": 0, "color": "#3e26a8"}, {"offset": 0.0833, "color": "#463ddc"}, {"offset": 0.1667, "color": "#3e56f2"}, {"offset": 0.25, "color": "#3079ee"}, {"offset": 0.3333, "color": "#2296e0"}, {"offset": 0.4167, "color": "#10aed4"}, {"offset": 0.5, "color": "#16bdb4"}, {"offset": 0.5833, "color": "#4cc68b"}, {"offset": 0.6667, "color": "#7dc85a"}, {"offset": 0.75, "color": "#c3c13c"}, {"offset": 0.8333, "color": "#fbb83c"}, {"offset": 0.9167, "color": "#f9d12d"}, {"offset": 1, "color": "#f9fb15"}]}, "stroke": "#262626", "strokeWidth": 0.6},
"encoding": {
"y": {"field": "min", "type": "quantitative", "scale": {"domain": [200, 800], "nice": false, "zero": false}, "axis": {"orient": "right", "values": [200, 300, 400, 500, 600, 700, 800], "format": "d", "title": "Iluminancia(lx)", "titleAngle": 270, "titleFontSize": 12.5, "titleFontWeight": "normal", "titleColor": "#404040", "titlePadding": 20, "labelFontSize": 12.5, "labelColor": "#404040", "labelPadding": 10.5, "labelFlush": false, "domain": false, "tickSize": -4, "tickColor": "#262626"}},
"y2": {"field": "max"}
}
}
],
"spacing": 13,
"bounds": "flush"
}
],
"spacing": 0
}
],
"spacing": 103
}
],
"spacing": 64
}
],
"spacing": -3,
"resolve": {"scale": {"fill": "independent"}}
}
